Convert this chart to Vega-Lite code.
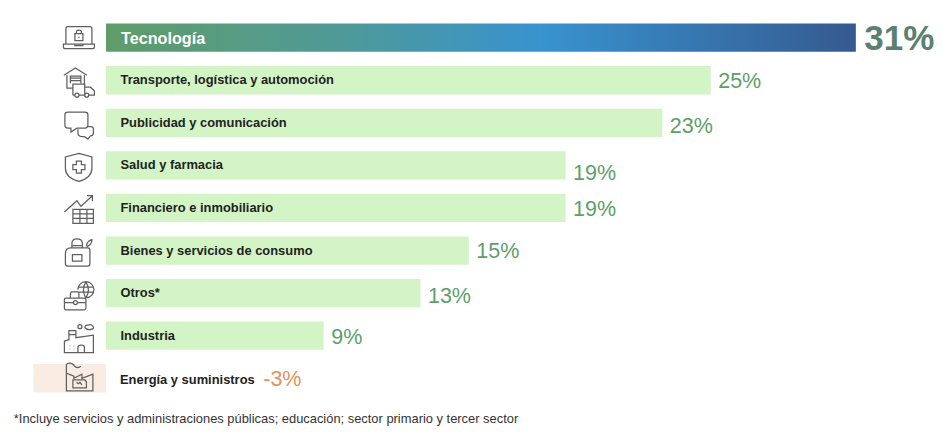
{
"$schema":"https://vega.github.io/schema/vega-lite/v6.json",
"width":948,"height":411.5,
"autosize":"none",
"padding":{"left":0,"right":0,"top":23.5,"bottom":0},
"background":"white",
"config":{"view":{"stroke":null}},
"datasets":{"sectors":[
{"sector":"Tecnología","value":31,"label":"31%"},
{"sector":"Transporte, logística y automoción","value":25,"label":"25%"},
{"sector":"Publicidad y comunicación","value":23,"label":"23%"},
{"sector":"Salud y farmacia","value":19,"label":"19%"},
{"sector":"Financiero e inmobiliario","value":19,"label":"19%"},
{"sector":"Bienes y servicios de consumo","value":15,"label":"15%"},
{"sector":"Otros*","value":13,"label":"13%"},
{"sector":"Industria","value":9,"label":"9%"},
{"sector":"Energía y suministros","value":-3,"label":"-3%"}
]},
"data":{"name":"sectors"},
"encoding":{"y":{"field":"sector","type":"nominal","axis":null,"sort":null,"scale":{"domain":["Tecnología","Transporte, logística y automoción","Publicidad y comunicación","Salud y farmacia","Financiero e inmobiliario","Bienes y servicios de consumo","Otros*","Industria","Energía y suministros","nota"],"paddingInner":0.335,"paddingOuter":0}}},
"layer":[
{"transform":[{"filter":"datum.value>0 && datum.value<31"}],
 "mark":{"type":"bar","color":"#d3f5c6"},
 "encoding":{"x":{"field":"value","type":"quantitative","axis":null,"stack":null,"scale":{"domain":[-4.382,34.81],"nice":false,"zero":false}}}},
{"transform":[{"filter":"datum.value==31"}],
 "mark":{"type":"bar","color":{"gradient":"linear","x1":0,"x2":1,"y1":0,"y2":0,"stops":[{"offset":0,"color":"#5f9c68"},{"offset":0.3,"color":"#4f9a96"},{"offset":0.58,"color":"#3893cf"},{"offset":1,"color":"#355a90"}]}},
 "encoding":{"x":{"field":"value","type":"quantitative","stack":null}}},
{"transform":[{"filter":"datum.value<0"}],
 "mark":{"type":"bar","color":"#f8ece3"},
 "encoding":{"x":{"field":"value","type":"quantitative","stack":null}}},
{"mark":{"type":"point","filled":false,"fill":"transparent","size":4,"stroke":"#5f5f5f","strokeWidth":1.25,"opacity":1},
 "encoding":{"x":{"datum":-1.12},
 "shape":{"field":"sector","type":"nominal","legend":null,"scale":{"domain":["Tecnología","Transporte, logística y automoción","Publicidad y comunicación","Salud y farmacia","Financiero e inmobiliario","Bienes y servicios de consumo","Otros*","Industria","Energía y suministros"],
 "range":[
 "M-13 6.5V-9Q-13 -11 -11 -11H11Q13 -11 13 -9V6.5M-15.5 6.5H15.5V9Q15.5 11 13.5 11H-13.5Q-15.5 11 -15.5 9ZM-4 -4H4V3H-4ZM-2.5 -4V-5.5Q-2.5 -7.5 0 -7.5Q2.5 -7.5 2.5 -5.5V-4M-4 6.5V8H4V6.5M0 -1V0.5",
 "M-15 -5L-3.5 -12.3L8 -5M-12 -5V8H-6M5.5 -5V4M-8.5 3V-4H2V3M-8.5 -2H2M-8.5 0.5H2M-6 15H-4M0 15H5.8V4H-6V15M5.8 7H11.5L15.5 10.5V15H10M-4 15A2 2 0 1 0 0 15A2 2 0 1 0 -4 15M5.8 15A2 2 0 1 0 9.8 15A2 2 0 1 0 5.8 15",
 "M-11 -10.7H6Q9 -10.7 9 -8V2Q9 5.3 6 5.3H-2L-8 9.3V5.3H-11Q-14 5.3 -14 2V-8Q-14 -10.7 -11 -10.7ZM9 3.7H12Q14.5 3.7 14.5 6V10Q14.5 13 12 13H11.5L9 16.3L5.5 13.7H3Q-1 13.7 -1 10V6.5",
 "M0 -12L13 -8.5V3Q13 12 0 16Q-13.5 12 -13.5 3V-8.5ZM-2.5 -4.3H2.5V-0.8H6V4.2H2.5V7.7H-2.5V4.2H-6V-0.8H-2.5Z",
 "M-6 1.5H14.5V15.5H-6ZM-6 6H14.5M-6 10.5H14.5M1 1.5V15.5M8 1.5V15.5M-14.5 4L-2 -7.3L2 -1.7L13 -11.7M8 -12.3H13.5V-6.8",
 "M-13.5 3Q-13.5 -2.7 -8 -2.7H9Q11 -2.7 11 0V13Q11 15.7 9 15.7H-11Q-13.5 15.7 -13.5 13ZM-7 -2.7V-7Q-7 -11.7 -2 -11.7Q3.5 -11.7 3.5 -7V-2.7M-6.5 4H3V10.7H-6.5ZM-6.8 -5H3.2M7.5 -5Q8.5 -10 13 -11Q13 -6 8.5 -4Z",
 "M-13 5H5.5Q7 5 7 6.5V15.2Q7 16.7 5.5 16.7H-13Q-14.5 16.7 -14.5 15.2V6.5Q-14.5 5 -13 5ZM-8.5 5V2.5Q-8.5 -1.3 -7 -1.3H-1Q0 -1.3 0 1V5M-14.5 9.5H-5.5M-1.5 9.5H7M-5.5 9.5A2 2 0 1 0 -1.5 9.5A2 2 0 1 0 -5.5 9.5M-1 -3.3A8 8 0 1 1 7.5 4.6M7 -11.3Q2 -3.3 7 4.7Q12 -3.3 7 -11.3M-0.5 -6H14.5M-0.5 -1H14.5",
 "M-14.5 5.5L-10 4V-5H-3V2L14.5 -0.5V17H-14.5ZM-10 -1H-3M-1 17V11.5Q-1 9.5 2.5 9.5Q5.5 9.5 5.5 11.5V17M-9 10V10.5M-9 13V13.5M-5 10V10.5M-5 13V13.5M-1 -9A2 2 0 1 0 3 -9A2 2 0 1 0 -1 -9M6 -8Q6 -11 9 -10.5Q12 -12 14 -9.5Q15.5 -7 13 -6.5Q9 -5 6 -8Z",
 "M-12.5 -14V12.5H14V-4L3 0V-4L-5 0V-2L-12.5 -5M-12.5 -14Q-8 -16.5 -5 -13Q-2 -9 2 -12M-6 1.5H6L7.5 3.5V9.5H-6ZM-2.5 4L-0.5 5.5L1 4L3 6.5"
 ]}}}},
{"transform":[{"filter":"datum.value<31 && datum.value>0"}],
 "mark":{"type":"text","align":"left","baseline":"middle","dx":14.5,"dy":0,"font":"Liberation Sans","fontWeight":"bold","fontSize":12.9,"fill":"#222222"},
 "encoding":{"x":{"datum":0},"text":{"field":"sector"}}},
{"transform":[{"filter":"datum.value<0"}],
 "mark":{"type":"text","align":"left","baseline":"middle","dx":14,"dy":1.5,"font":"Liberation Sans","fontWeight":"bold","fontSize":12.9,"fill":"#222222"},
 "encoding":{"x":{"datum":0},"text":{"field":"sector"}}},
{"transform":[{"filter":"datum.value==31"}],
 "mark":{"type":"text","align":"left","baseline":"middle","dx":15,"dy":1,"font":"Liberation Sans","fontWeight":"bold","fontSize":16.2,"fill":"white"},
 "encoding":{"x":{"datum":0},"text":{"field":"sector"}}},
{"transform":[{"filter":"datum.value==25 || datum.value==15"}],
 "mark":{"type":"text","align":"left","baseline":"middle","dx":7.5,"dy":1.5,"font":"Liberation Sans","fontSize":21.5,"fill":"#5d9e69"},
 "encoding":{"x":{"field":"value","type":"quantitative"},"text":{"field":"label"}}},
{"transform":[{"filter":"datum.value==23 || datum.value==13"}],
 "mark":{"type":"text","align":"left","baseline":"middle","dx":7.5,"dy":4,"font":"Liberation Sans","fontSize":21.5,"fill":"#5d9e69"},
 "encoding":{"x":{"field":"value","type":"quantitative"},"text":{"field":"label"}}},
{"transform":[{"filter":"datum.sector=='Salud y farmacia'"}],
 "mark":{"type":"text","align":"left","baseline":"middle","dx":7.5,"dy":8.5,"font":"Liberation Sans","fontSize":21.5,"fill":"#5d9e69"},
 "encoding":{"x":{"field":"value","type":"quantitative"},"text":{"field":"label"}}},
{"transform":[{"filter":"datum.sector=='Financiero e inmobiliario' || datum.value==9"}],
 "mark":{"type":"text","align":"left","baseline":"middle","dx":7.5,"dy":2.5,"font":"Liberation Sans","fontSize":21.5,"fill":"#5d9e69"},
 "encoding":{"x":{"field":"value","type":"quantitative"},"text":{"field":"label"}}},
{"transform":[{"filter":"datum.value==31"}],
 "mark":{"type":"text","align":"left","baseline":"middle","dx":8.5,"dy":1.5,"font":"Liberation Sans","fontWeight":"bold","fontSize":35,"fill":"#5a8070"},
 "encoding":{"x":{"field":"value","type":"quantitative"},"text":{"field":"label"}}},
{"transform":[{"filter":"datum.value<0"}],
 "mark":{"type":"text","align":"left","baseline":"middle","dy":1.5,"font":"Liberation Sans","fontSize":21.5,"fill":"#e0935a"},
 "encoding":{"x":{"datum":6.5},"text":{"field":"label"}}},
{"data":{"values":[{"nota":"*Incluye servicios y administraciones públicas; educación; sector primario y tercer sector"}]},
 "mark":{"type":"text","align":"left","baseline":"middle","dy":-1.5,"font":"Liberation Sans","fontSize":12.9,"fill":"#333333"},
 "encoding":{"x":{"datum":-3.81},"y":{"datum":"nota"},"text":{"field":"nota"}}}
]
}
